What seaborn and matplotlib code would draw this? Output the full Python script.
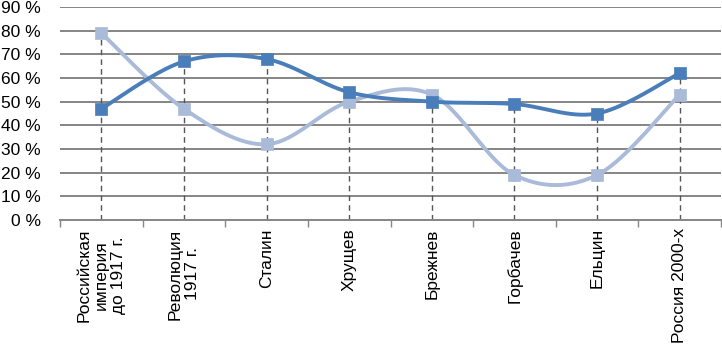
import numpy as np
import pandas as pd
import matplotlib
matplotlib.use("Agg")
import matplotlib.pyplot as plt
import seaborn as sns

categories = ["Российская\nимперия\nдо 1917 г.", "Революция\n1917 г.", "Сталин", "Хрущев",
              "Брежнев", "Горбачев", "Ельцин", "Россия 2000-х"]
series_dark = [47, 67, 68, 54, 50, 49, 45, 62]
series_light = [79, 47, 32, 50, 53, 19, 19, 53]
y_ticks = [0, 10, 20, 30, 40, 50, 60, 70, 80, 90]
y_tick_labels = [f"{v} %" for v in y_ticks]

sns.set_theme(style="white")
plt.rcParams['font.family'] = ['Liberation Sans', 'DejaVu Sans']

fig = plt.figure(figsize=(7.22, 3.48), dpi=100)
ax = fig.add_axes([60/722, 1-220/348, 661/722, 213/348])

def smooth(xs, ys, n=40):
    xs = np.asarray(xs, float); ys = np.asarray(ys, float)
    px = np.concatenate([[xs[0]], xs, [xs[-1]]])
    py = np.concatenate([[ys[0]], ys, [ys[-1]]])
    outx, outy = [], []
    for i in range(1, len(px) - 2):
        p0, p1, p2, p3 = (np.array([px[i+k-1], py[i+k-1]]) for k in range(4))
        c1 = p1 + (p2 - p0) / 6
        c2 = p2 - (p3 - p1) / 6
        t = np.linspace(0, 1, n)[:, None]
        b = (1-t)**3*p1 + 3*(1-t)**2*t*c1 + 3*(1-t)*t**2*c2 + t**3*p2
        outx.extend(b[:, 0]); outy.extend(b[:, 1])
    return np.array(outx), np.array(outy)

x = np.arange(len(categories))
dark = "#4a7ebb"
light = "#aabbd9"

for v in y_ticks[1:]:
    ax.axhline(v, color="#858585", lw=1.4, zorder=0)

# drop lines
tops = np.maximum(series_dark, series_light)
ax.vlines(x, 0, tops, colors="#555555", linestyles=(0, (4, 3)), lw=1.0, zorder=1)

df = pd.DataFrame({"x": np.concatenate([x, x]),
                   "v": series_dark + series_light,
                   "s": ["dark"] * len(x) + ["light"] * len(x)})

for ser, col, z in [("light", light, 2), ("dark", dark, 3)]:
    sub = df[df.s == ser]
    sx, sy = smooth(sub.x, sub.v)
    ax.plot(sx, sy, color=col, lw=2.8, zorder=z, solid_capstyle="round")
    sns.scatterplot(data=sub, x="x", y="v", marker="s", s=80, color=col,
                    edgecolor=col, linewidth=0.5, ax=ax, zorder=z + 0.5, legend=False)

ax.set_xlim(-0.5, len(categories) - 0.5)
ax.set_ylim(0, 90)
ax.set_yticks(y_ticks)
ax.set_yticklabels(y_tick_labels, fontsize=12.5)
ax.tick_params(axis="y", length=0, pad=14)
ax.set_xticks(x)
ax.set_xticklabels(categories, rotation=90, fontsize=12.5, va="top", ha="center",
                   multialignment="center", linespacing=1.15)
ax.tick_params(axis="x", length=0, pad=6)
ax.set_xticks(np.arange(-0.5, len(categories)), minor=True)
ax.tick_params(axis="x", which="minor", length=5, width=1, color="#878787", direction="out", bottom=True)
ax.set_xlabel(""); ax.set_ylabel("")
for sp in ax.spines.values():
    sp.set_visible(False)
ax.spines["bottom"].set_visible(True)
ax.spines["bottom"].set_color("#858585")
ax.spines["bottom"].set_linewidth(1.4)
for t in ax.get_yticklabels():
    t.set_color("black")
for t in ax.get_xticklabels():
    t.set_color("black")

fig.savefig("out.png", dpi=100)
